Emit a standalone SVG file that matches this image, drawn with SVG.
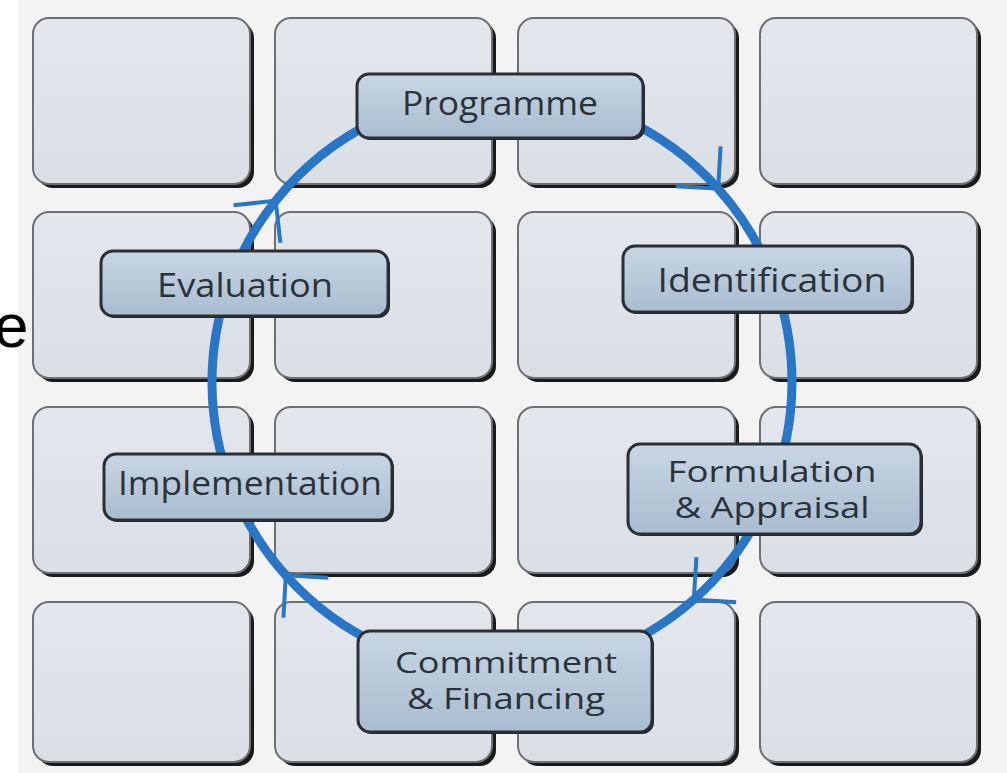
<svg xmlns="http://www.w3.org/2000/svg" width="1007" height="773" viewBox="0 0 1007 773">
<style>
.tile-sh{fill:#1a1a1a}
.tile{fill:url(#tileGrad);stroke:#6d7074;stroke-width:2}
.box-sh{fill:#1f2326}
.box{fill:url(#boxGrad);stroke:#2b3034;stroke-width:3}
.lbl{font-family:"Open Sans","Noto Sans",sans-serif;font-size:32px;font-weight:500;fill:#2a333b;text-anchor:middle}
.lbl2{font-size:30px}
.ring{fill:none;stroke:#2a76c6;stroke-width:9}
.ring-arrow{fill:none;stroke:#2a76c6;stroke-width:9;marker-mid:url(#chev)}
</style>
<defs>
<linearGradient id="tileGrad" x1="0" y1="0" x2="0" y2="1">
<stop offset="0" stop-color="#e4e7ec"/><stop offset="1" stop-color="#dadfe6"/>
</linearGradient>
<linearGradient id="boxGrad" x1="0" y1="0" x2="0" y2="1">
<stop offset="0" stop-color="#c9d6e4"/><stop offset="1" stop-color="#a9bcd0"/>
</linearGradient>
<marker id="chev" markerUnits="userSpaceOnUse" orient="auto" refX="0" refY="0" markerWidth="10" markerHeight="10" overflow="visible">
<path d="M-30,-30 L0,0 L-30,30" fill="none" stroke="#2a76c6" stroke-width="4" stroke-linejoin="miter"/>
</marker>
</defs>
<rect x="0" y="0" width="1007" height="773" fill="#ffffff"/>
<rect x="18" y="0" width="989" height="773" fill="#f3f3f3"/>
<g id="tiles">
<g id="tile-r1">
<rect class="tile-sh" x="37" y="22" width="217" height="166" rx="16"/><rect class="tile" x="33" y="18" width="217" height="166" rx="16"/>
<rect class="tile-sh" x="279" y="22" width="217" height="166" rx="16"/><rect class="tile" x="275" y="18" width="217" height="166" rx="16"/>
<rect class="tile-sh" x="522" y="22" width="217" height="166" rx="16"/><rect class="tile" x="518" y="18" width="217" height="166" rx="16"/>
<rect class="tile-sh" x="764" y="22" width="217" height="166" rx="16"/><rect class="tile" x="760" y="18" width="217" height="166" rx="16"/>
</g>
<g id="tile-r2">
<rect class="tile-sh" x="37" y="216" width="217" height="166" rx="16"/><rect class="tile" x="33" y="212" width="217" height="166" rx="16"/>
<rect class="tile-sh" x="279" y="216" width="217" height="166" rx="16"/><rect class="tile" x="275" y="212" width="217" height="166" rx="16"/>
<rect class="tile-sh" x="522" y="216" width="217" height="166" rx="16"/><rect class="tile" x="518" y="212" width="217" height="166" rx="16"/>
<rect class="tile-sh" x="764" y="216" width="217" height="166" rx="16"/><rect class="tile" x="760" y="212" width="217" height="166" rx="16"/>
</g>
<g id="tile-r3">
<rect class="tile-sh" x="37" y="411" width="217" height="166" rx="16"/><rect class="tile" x="33" y="407" width="217" height="166" rx="16"/>
<rect class="tile-sh" x="279" y="411" width="217" height="166" rx="16"/><rect class="tile" x="275" y="407" width="217" height="166" rx="16"/>
<rect class="tile-sh" x="522" y="411" width="217" height="166" rx="16"/><rect class="tile" x="518" y="407" width="217" height="166" rx="16"/>
<rect class="tile-sh" x="764" y="411" width="217" height="166" rx="16"/><rect class="tile" x="760" y="407" width="217" height="166" rx="16"/>
</g>
<g id="tile-r4">
<rect class="tile-sh" x="37" y="606" width="217" height="160" rx="16"/><rect class="tile" x="33" y="602" width="217" height="160" rx="16"/>
<rect class="tile-sh" x="279" y="606" width="217" height="160" rx="16"/><rect class="tile" x="275" y="602" width="217" height="160" rx="16"/>
<rect class="tile-sh" x="522" y="606" width="217" height="160" rx="16"/><rect class="tile" x="518" y="602" width="217" height="160" rx="16"/>
<rect class="tile-sh" x="764" y="606" width="217" height="160" rx="16"/><rect class="tile" x="760" y="602" width="217" height="160" rx="16"/>
</g>
</g>
<text x="-6" y="347" font-family="'Liberation Sans',Arial,sans-serif" font-size="62" fill="#000000">e</text>
<g id="connectors">
<path class="ring-arrow" d="M502,92 A290,290 0 0 1 718.2,188.7 A290,290 0 0 1 773.1,279"/>
<path class="ring" d="M773.1,279 A290,290 0 0 1 771.4,489.2"/>
<path class="ring-arrow" d="M771.4,489.2 A290,290 0 0 1 693.8,599.5 A290,290 0 0 1 502,672"/>
<path class="ring-arrow" d="M502,672 A290,290 0 0 1 285.8,575.3 A290,290 0 0 1 231.8,487.4"/>
<path class="ring" d="M231.8,487.4 A290,290 0 0 1 229,284.2"/>
<path class="ring-arrow" d="M229,284.2 A290,290 0 0 1 275.7,200.7 A290,290 0 0 1 502,92"/>
</g>
<g id="node-programme">
<rect class="box-sh" x="359" y="76" width="286" height="64" rx="12"/>
<rect class="box" x="357" y="74" width="286" height="64" rx="12"/>
<text class="lbl" x="500" y="115" textLength="196" lengthAdjust="spacingAndGlyphs">Programme</text>
</g>
<g id="node-identification">
<rect class="box-sh" x="625" y="248" width="289" height="66" rx="12"/>
<rect class="box" x="623" y="246" width="289" height="66" rx="12"/>
<text class="lbl" x="772" y="292" textLength="229" lengthAdjust="spacingAndGlyphs">Identification</text>
</g>
<g id="node-formulation">
<rect class="box-sh" x="630" y="446" width="293" height="90" rx="12"/>
<rect class="box" x="628" y="444" width="293" height="90" rx="12"/>
<text class="lbl lbl2" x="772" y="482" textLength="209" lengthAdjust="spacingAndGlyphs">Formulation</text>
<text class="lbl lbl2" x="772" y="518" textLength="195" lengthAdjust="spacingAndGlyphs">&amp; Appraisal</text>
</g>
<g id="node-commitment">
<rect class="box-sh" x="360" y="633" width="294" height="101" rx="12"/>
<rect class="box" x="358" y="631" width="294" height="101" rx="12"/>
<text class="lbl lbl2" x="506" y="673" textLength="222" lengthAdjust="spacingAndGlyphs">Commitment</text>
<text class="lbl lbl2" x="506" y="709" textLength="198" lengthAdjust="spacingAndGlyphs">&amp; Financing</text>
</g>
<g id="node-implementation">
<rect class="box-sh" x="106" y="456" width="288" height="66" rx="12"/>
<rect class="box" x="104" y="454" width="288" height="66" rx="12"/>
<text class="lbl" x="250" y="495" textLength="264" lengthAdjust="spacingAndGlyphs">Implementation</text>
</g>
<g id="node-evaluation">
<rect class="box-sh" x="103" y="253" width="287" height="65" rx="12"/>
<rect class="box" x="101" y="251" width="287" height="65" rx="12"/>
<text class="lbl" x="245" y="297" textLength="176" lengthAdjust="spacingAndGlyphs">Evaluation</text>
</g>
</svg>
